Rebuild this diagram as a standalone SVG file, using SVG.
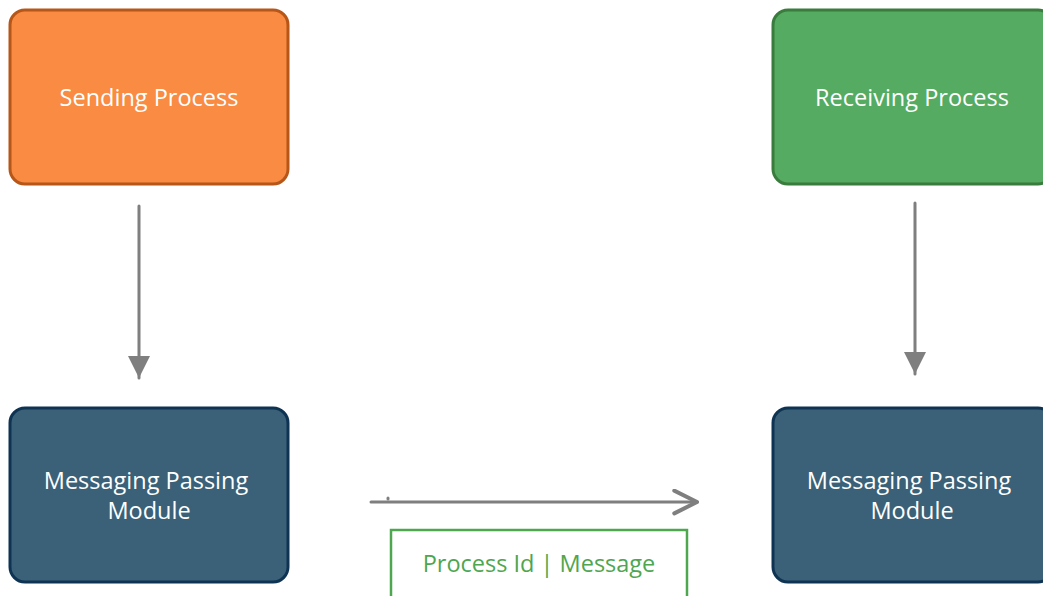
<svg xmlns="http://www.w3.org/2000/svg" width="1043" height="596" viewBox="0 0 1043 596">
  <defs>
    <marker id="arrow" viewBox="0 0 10 10" refX="10" refY="5" markerWidth="7.5" markerHeight="7.5" markerUnits="strokeWidth" orient="auto">
      <path d="M0,0 L10,5 L0,10 Z" fill="#7f7f7f"/>
    </marker>
    <marker id="arrow-open" viewBox="0 0 10 10" refX="9.2" refY="5" markerWidth="9" markerHeight="9" markerUnits="strokeWidth" orient="auto">
      <path d="M0.8,0.8 L9.2,5 L0.8,9.2" fill="none" stroke="#7f7f7f" stroke-width="1.5" stroke-linecap="round" stroke-linejoin="round"/>
    </marker>
  </defs>
  <style>
    .box { stroke-width: 3; }
    .label { font-family: "Open Sans", "Noto Sans", "Liberation Sans", sans-serif; font-size: 23.5px; fill: #ffffff; text-anchor: middle; dominant-baseline: central; }
    .conn { stroke: #7f7f7f; stroke-width: 3; fill: none; stroke-linecap: round; }
    .tag { font-family: "Open Sans", "Noto Sans", "Liberation Sans", sans-serif; font-size: 23.5px; fill: #4ea64f; text-anchor: middle; dominant-baseline: central; }
  </style>
  <rect width="1043" height="596" fill="#ffffff"/>

  <g id="sending-process">
    <rect class="box" x="10" y="10" width="278" height="174" rx="15" fill="#f98b43" stroke="#b65618"/>
    <text class="label" x="149" y="97">Sending Process</text>
  </g>

  <g id="receiving-process">
    <rect class="box" x="773" y="10" width="280" height="174" rx="15" fill="#55ab61" stroke="#3a7c3d"/>
    <text class="label" x="912" y="97">Receiving Process</text>
  </g>

  <g id="sender-module">
    <rect class="box" x="10" y="408" width="278" height="174" rx="15" fill="#3a6178" stroke="#0f3453"/>
    <text class="label" x="146" y="480">Messaging Passing</text>
    <text class="label" x="149" y="510">Module</text>
  </g>

  <g id="receiver-module">
    <rect class="box" x="773" y="408" width="280" height="174" rx="15" fill="#3a6178" stroke="#0f3453"/>
    <text class="label" x="909" y="480">Messaging Passing</text>
    <text class="label" x="912" y="510">Module</text>
  </g>

  <g id="message-tag">
    <rect x="391" y="530" width="296" height="70" fill="#ffffff" stroke="#4ea64f" stroke-width="2.5"/>
    <text class="tag" x="539" y="563">Process Id | Message</text>
  </g>

  <g id="connectors">
    <line class="conn" x1="139" y1="206" x2="139" y2="378" marker-end="url(#arrow)"/>
    <line class="conn" x1="915" y1="203" x2="915" y2="374" marker-end="url(#arrow)"/>
    <path class="conn" d="M371,502 L540,502 L697,502" marker-end="url(#arrow-open)"/>
    <line class="conn" x1="388" y1="498" x2="388" y2="499" stroke-width="2"/>
  </g>
</svg>
